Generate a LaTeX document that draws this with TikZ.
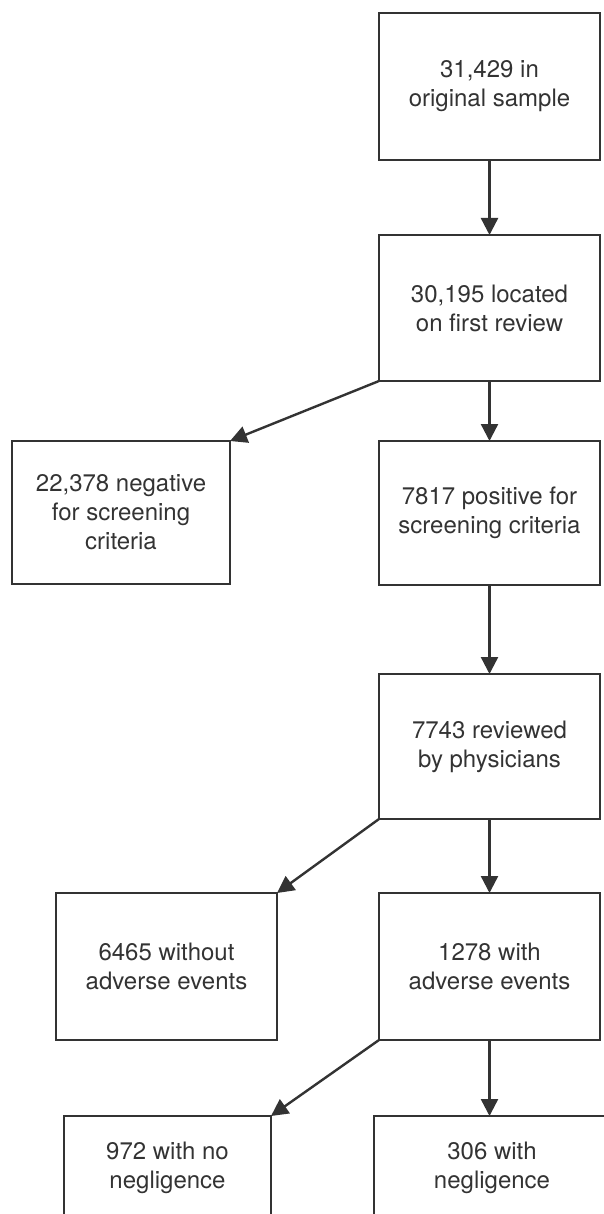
\documentclass[tikz,border=0pt]{standalone}
\usepackage{fontspec}
\setmainfont{TeX Gyre Heros}
\usetikzlibrary{arrows.meta}
\definecolor{ink}{HTML}{333333}
\tikzset{
  box/.style={draw=ink, line width=2.6pt, rectangle, inner sep=0pt, outer sep=0pt,
    align=center, text=ink, font=\fontsize{24}{29}\selectfont},
  conn/.style={draw=ink, line width=2.4pt, -{Triangle[width=17pt,length=17pt]}}
}
\begin{document}
\begin{tikzpicture}[x=1pt,y=-1pt]
\useasboundingbox (0,0) rectangle (604,1214);
\clip (0,0) rectangle (604,1214);
\node[box, minimum width=221pt, minimum height=147pt] (b1) at (489.5,86.5) {31,429 in\\original sample};
\node[box, minimum width=221pt, minimum height=146pt] (b2) at (489.5,308) {30,195 located\\on first review};
\node[box, minimum width=218pt, minimum height=143pt] (b3) at (121,512.5) {22,378 negative\\for screening\\criteria};
\node[box, minimum width=221pt, minimum height=144pt] (b4) at (489.5,513) {7817 positive for\\screening criteria};
\node[box, minimum width=221pt, minimum height=145pt] (b5) at (489.5,746.5) {7743 reviewed\\by physicians};
\node[box, minimum width=221pt, minimum height=147pt] (b6) at (166.5,966.5) {6465 without\\adverse events};
\node[box, minimum width=221pt, minimum height=147pt] (b7) at (489.5,966.5) {1278 with\\adverse events};
\node[box, minimum width=207pt, minimum height=103pt] (b8) at (167.5,1167.5) {972 with no\\negligence};
\node[box, minimum width=236pt, minimum height=103pt] (b9) at (492,1167.5) {306 with\\negligence};
\draw[conn] (b1.south) -- (b2.north);
\draw[conn] (b2.south west) -- (b3.north east);
\draw[conn] (b2.south) -- (b4.north);
\draw[conn] (b4.south) -- (b5.north);
\draw[conn] (b5.south west) -- (b6.north east);
\draw[conn] (b5.south) -- (b7.north);
\draw[conn] (b7.south west) -- (b8.north east);
\draw[conn] (b7.south) -- (b9.north -| b7.south);
\end{tikzpicture}
\end{document}
